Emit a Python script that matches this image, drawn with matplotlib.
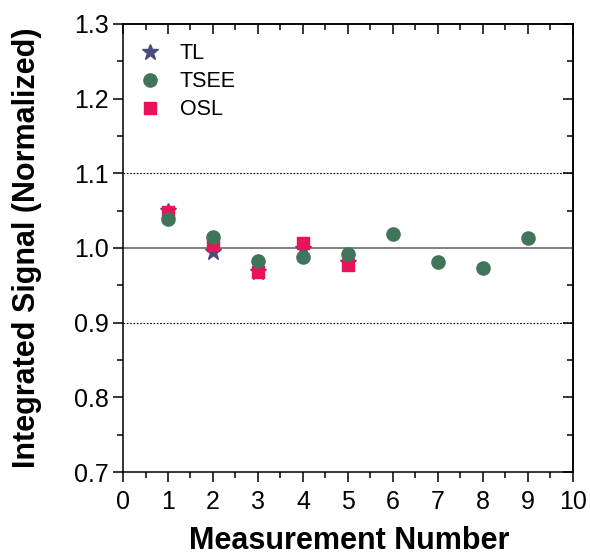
import numpy as np
import matplotlib.pyplot as plt
from matplotlib.ticker import MultipleLocator

plt.rcParams['font.family'] = ['Liberation Sans', 'DejaVu Sans']

# measurement numbers and normalized integrated signals
tl_x = [1, 2, 3, 4, 5]
tl_y = [1.050, 0.995, 0.968, 0.999, 0.980]

tsee_x = [1, 2, 3, 4, 5, 6, 7, 8, 9]
tsee_y = [1.039, 1.015, 0.982, 0.988, 0.992, 1.019, 0.981, 0.973, 1.013]

osl_x = [1, 2, 3, 4, 5]
osl_y = [1.048, 1.004, 0.968, 1.007, 0.977]

fig = plt.figure(figsize=(5.9, 5.57), dpi=100)
ax = fig.add_axes([0.2085, 0.1526, 0.7625, 0.8044])

ax.axhline(1.0, color="#808080", linewidth=1.4, zorder=1)
ax.axhline(1.1, color="black", linewidth=0.8, linestyle=(0, (1.5, 1.5)), zorder=1)
ax.axhline(0.9, color="black", linewidth=0.8, linestyle=(0, (1.5, 1.5)), zorder=1)

ax.plot(tl_x, tl_y, linestyle="none", marker="*", markersize=12,
        color="#4b4a7c", label="TL", zorder=3)
ax.plot(osl_x, osl_y, linestyle="none", marker="s", markersize=8.5,
        color="#ea1259", label="OSL", zorder=4)
ax.plot(tsee_x, tsee_y, linestyle="none", marker="o", markersize=9.5,
        color="#41755a", label="TSEE", zorder=5)

ax.set_xlim(0, 10)
ax.set_ylim(0.7, 1.3)
ax.xaxis.set_major_locator(MultipleLocator(1))
ax.xaxis.set_minor_locator(MultipleLocator(0.5))
ax.yaxis.set_major_locator(MultipleLocator(0.1))
ax.yaxis.set_minor_locator(MultipleLocator(0.05))
ax.yaxis.set_major_formatter(plt.FormatStrFormatter("%.1f"))

for side in ax.spines.values():
    side.set_linewidth(1.1)

ax.tick_params(which="both", direction="out", labelsize=18, width=1.1,
               top=False, right=False)
ax.tick_params(which="major", length=7)
ax.tick_params(which="minor", length=4)
ax.tick_params(axis="x", pad=6)

# inward ticks on the top and right edges
sec_x = ax.secondary_xaxis("top")
sec_x.xaxis.set_major_locator(MultipleLocator(1))
sec_x.xaxis.set_minor_locator(MultipleLocator(0.5))
sec_x.tick_params(which="both", direction="in", labeltop=False, width=1.1)
sec_x.tick_params(which="major", length=7)
sec_x.tick_params(which="minor", length=4)
sec_x.spines["top"].set_linewidth(1.1)
sec_y = ax.secondary_yaxis("right")
sec_y.yaxis.set_major_locator(MultipleLocator(0.1))
sec_y.yaxis.set_minor_locator(MultipleLocator(0.05))
sec_y.tick_params(which="both", direction="in", labelright=False, width=1.1)
sec_y.tick_params(which="major", length=7)
sec_y.tick_params(which="minor", length=4)
sec_y.spines["right"].set_linewidth(1.1)

ax.set_xlabel("Measurement Number", fontsize=22, fontweight="bold", va="baseline")
ax.xaxis.set_label_coords(0.503, -0.171)
ax.set_ylabel("Integrated Signal (Normalized)", fontsize=22, fontweight="bold",
              va="center")
ax.yaxis.set_label_coords(-0.214, 0.5)

handles, labels = ax.get_legend_handles_labels()
order = [labels.index(n) for n in ["TL", "TSEE", "OSL"]]
ax.legend([handles[i] for i in order], [labels[i] for i in order],
          loc="upper left", bbox_to_anchor=(-0.018, 1.0), frameon=False,
          fontsize=15.5, handletextpad=0.6, labelspacing=0.32, handlelength=1.5)

fig.savefig("out.png", dpi=100)
